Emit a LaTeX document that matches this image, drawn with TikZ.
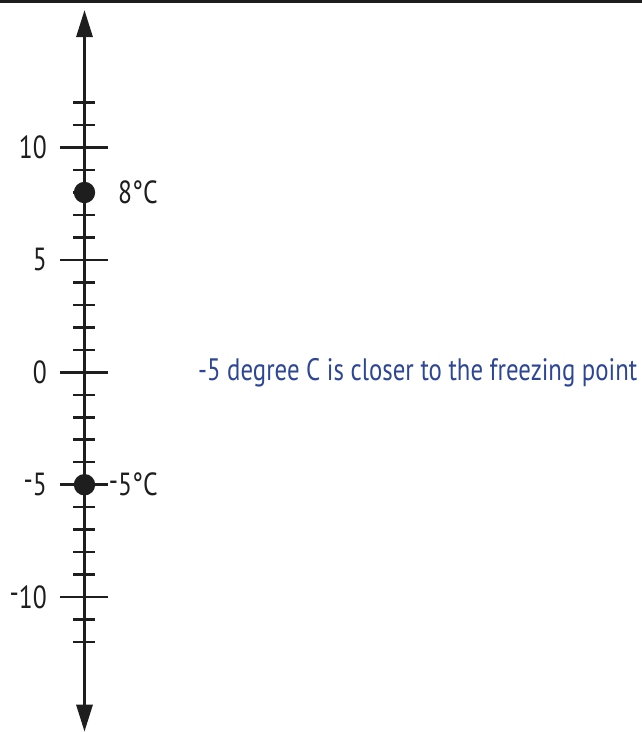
\documentclass[tikz,border=0pt]{standalone}
\usepackage{fontspec}
\setmainfont{PT Sans}
\newfontfamily\lblfont[FakeStretch=0.8]{PT Sans}
\usetikzlibrary{arrows.meta}
\definecolor{noteblue}{RGB}{45,70,150}
\definecolor{ink}{RGB}{30,30,30}
\tikzset{
  axisline/.style={line width=3pt, draw=ink, {Triangle[length=27pt,width=16pt]}-{Triangle[length=27pt,width=16pt]}},
  minortick/.style={line width=2.5pt, draw=ink},
  majortick/.style={line width=2.5pt, draw=ink},
  numlbl/.style={anchor=east, inner sep=0pt, font=\lblfont\fontsize{32}{36}\selectfont, text=ink},
  ptlbl/.style={anchor=west, inner sep=0pt, font=\lblfont\fontsize{32}{36}\selectfont, text=ink},
  dot/.style={circle, fill=ink, inner sep=0pt, minimum size=21.4pt},
  note/.style={anchor=west, inner sep=0pt, font=\lblfont\fontsize{31}{35}\selectfont, text=noteblue}
}
\newcommand{\mneg}{\raisebox{0.15em}{-}}
\begin{document}
\begin{tikzpicture}[x=1pt,y=-1pt]
\useasboundingbox (0,0) rectangle (642,732);
\draw[line width=3.3pt, draw=ink] (0,1.7) -- (642,1.7);
\coordinate (top) at (84.5,10);
\coordinate (bot) at (84.5,731.7);
\draw[axisline] (bot) -- (top);
\foreach \k in {-12,...,12}{
  \pgfmathsetmacro{\yy}{372.3-22.48*\k}
  \pgfmathtruncatemacro{\m}{mod(abs(\k),5)}
  \ifnum\m=0
    \draw[majortick] (60,\yy) -- (108,\yy);
  \else
    \draw[minortick] (73,\yy) -- (95,\yy);
  \fi
}
\node[numlbl] (l10) at (47,147.5) {10};
\node[numlbl] (l5) at (47,259.9) {5};
\node[numlbl] (l0) at (47,372.3) {0};
\node[numlbl] (lm5) at (47,484.7) {\mneg5};
\node[numlbl] (lm10) at (47,597.1) {\mneg10};
\node[dot] (d8) at (84.5,192.5) {};
\node[dot] (dm5) at (84.5,484.7) {};
\node[ptlbl] (t8) at (118,192.5) {8\textdegree C};
\node[ptlbl] (tm5) at (118,484.7) {\llap{\mneg}5\textdegree C};
\node[note] (msg) at (198,372.3) {-5 degree C is closer to the freezing point};
\end{tikzpicture}
\end{document}
